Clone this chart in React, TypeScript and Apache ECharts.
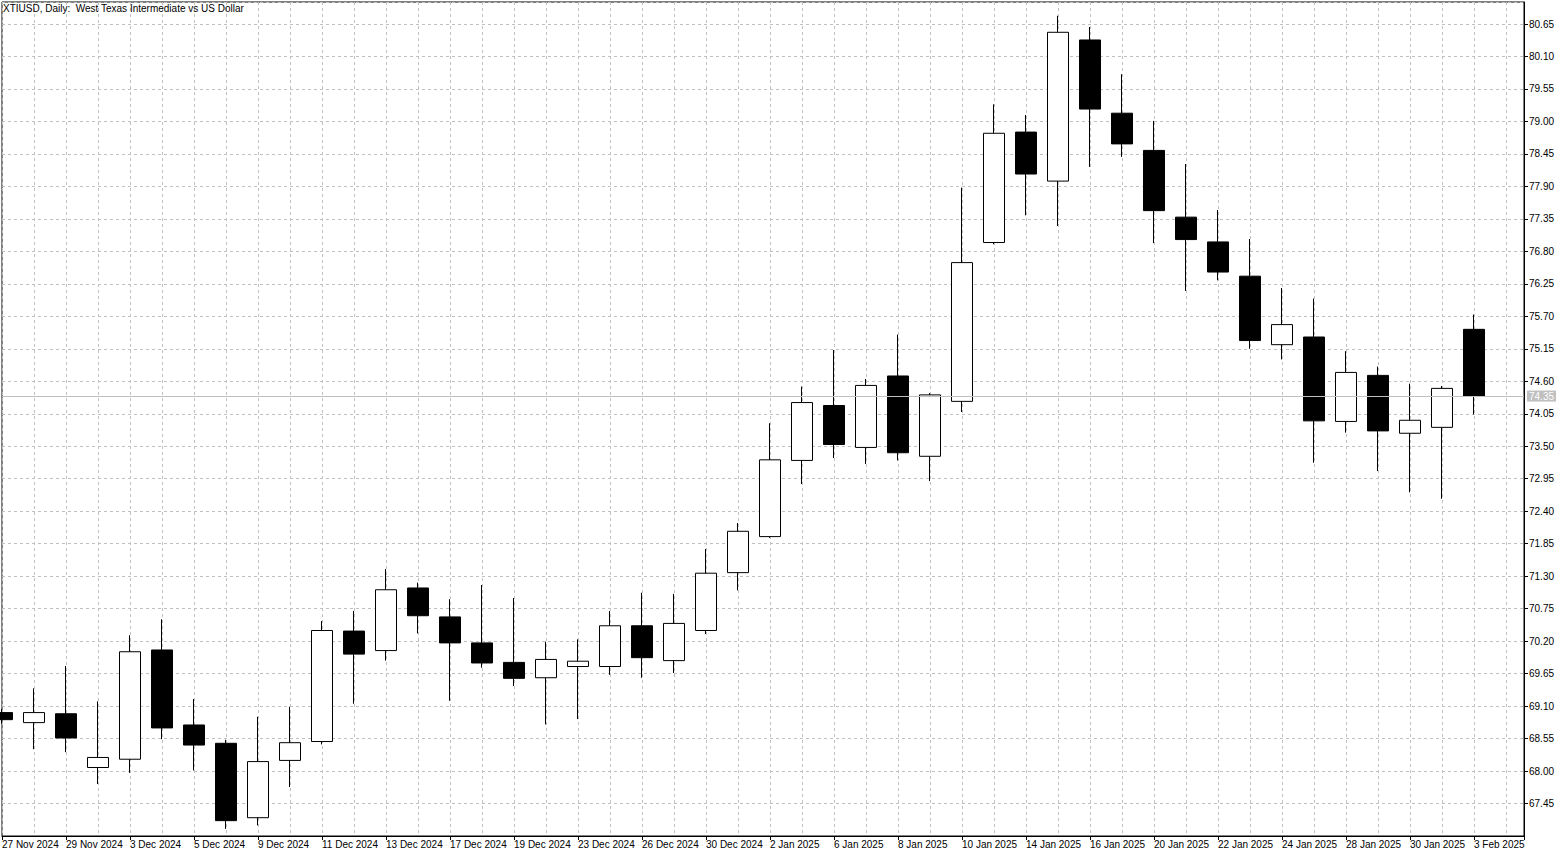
import React, { useEffect, useRef } from "react";
import * as echarts from "echarts";

const TITLE = "XTIUSD, Daily:  West Texas Intermediate vs US Dollar";

const dates = [
  "27 Nov 2024", "28 Nov 2024", "29 Nov 2024", "2 Dec 2024", "3 Dec 2024", "4 Dec 2024",
  "5 Dec 2024", "6 Dec 2024", "9 Dec 2024", "10 Dec 2024", "11 Dec 2024", "12 Dec 2024",
  "13 Dec 2024", "16 Dec 2024", "17 Dec 2024", "18 Dec 2024", "19 Dec 2024", "20 Dec 2024",
  "23 Dec 2024", "24 Dec 2024", "26 Dec 2024", "27 Dec 2024", "30 Dec 2024", "31 Dec 2024",
  "2 Jan 2025", "3 Jan 2025", "6 Jan 2025", "7 Jan 2025", "8 Jan 2025", "9 Jan 2025",
  "10 Jan 2025", "13 Jan 2025", "14 Jan 2025", "15 Jan 2025", "16 Jan 2025", "17 Jan 2025",
  "20 Jan 2025", "21 Jan 2025", "22 Jan 2025", "23 Jan 2025", "24 Jan 2025", "27 Jan 2025",
  "28 Jan 2025", "29 Jan 2025", "30 Jan 2025", "31 Jan 2025", "3 Feb 2025",
];

const opens = [
  68.99, 68.82, 68.97, 68.06, 68.2, 70.05, 68.78, 68.47, 67.21, 68.18, 68.5, 70.37,
  70.04, 71.1, 70.61, 70.17, 69.84, 69.58, 69.77, 69.77, 70.46, 69.87, 70.38, 71.36,
  71.97, 73.26, 74.19, 73.48, 74.69, 73.33, 74.26, 76.95, 78.82, 77.99, 80.38, 79.14,
  78.51, 77.38, 76.96, 76.38, 75.22, 75.35, 73.92, 74.7, 73.72, 73.82, 75.48,
];
const closes = [
  68.87, 68.99, 68.56, 68.23, 70.02, 68.73, 68.44, 67.16, 68.16, 68.48, 70.38, 69.98,
  71.07, 70.63, 70.17, 69.83, 69.57, 69.89, 69.86, 70.46, 69.92, 70.5, 71.35, 72.06,
  73.27, 74.24, 73.53, 74.53, 73.39, 74.37, 76.61, 78.8, 78.11, 80.51, 79.21, 78.62,
  77.49, 77.0, 76.45, 75.29, 75.56, 73.93, 74.75, 73.76, 73.94, 74.48, 74.35,
];
const lows = [
  68.8, 68.37, 68.32, 67.78, 67.97, 68.54, 68.01, 67.02, 67.08, 67.73, 68.45, 69.14,
  69.87, 70.33, 69.19, 69.75, 69.44, 68.79, 68.88, 69.63, 69.58, 69.66, 70.32, 71.06,
  71.95, 72.86, 73.3, 73.2, 73.26, 72.91, 74.08, 76.92, 77.41, 77.23, 78.23, 78.4,
  76.94, 76.13, 76.31, 75.15, 74.97, 73.22, 73.73, 73.08, 72.72, 72.61, 74.04,
];
const highs = [
  69.05, 69.4, 69.78, 69.18, 70.3, 70.57, 69.22, 68.53, 68.92, 69.09, 70.54, 70.71,
  71.42, 71.19, 70.91, 71.15, 70.93, 70.19, 70.23, 70.71, 71.02, 71.0, 71.76, 72.2,
  73.89, 74.51, 75.13, 74.64, 75.39, 74.4, 77.88, 79.29, 79.11, 80.79, 80.6, 79.8,
  79.01, 78.28, 77.5, 77.01, 76.18, 76.0, 75.11, 74.85, 74.56, 74.52, 75.73,
];

const lastPrice = 74.35;
const yMin = 66.9;
const yMax = 81.023;
const yStep = 0.55;
const xMax = 47.5625;

const FONT = "'Liberation Sans', Arial, sans-serif";
const GRID = "#c0c0c0";

export default function App() {
  const ref = useRef<HTMLDivElement>(null);
  useEffect(() => {
    document.body.style.margin = "0";
    const chart = echarts.init(ref.current!, null, { renderer: "svg" });
    const data = dates.map((_, i) => [i, opens[i], closes[i], lows[i], highs[i]]);
    chart.setOption({
      animation: false,
      backgroundColor: "#ffffff",
      textStyle: { fontFamily: FONT },
      title: {
        text: TITLE,
        left: 3,
        top: 3,
        padding: 0,
        textStyle: { fontSize: 10, fontWeight: "normal", color: "#000", fontFamily: FONT },
      },
      grid: {
        left: 2,
        right: 43,
        top: 2,
        bottom: 21,
        show: true,
        borderColor: "#000",
        borderWidth: 1,
        containLabel: false,
        outerBoundsMode: "none",
      },
      xAxis: [
        {
          type: "value",
          min: 0,
          max: xMax,
          interval: 2,
          position: "bottom",
          axisLine: { show: true, onZero: false, lineStyle: { color: "#000", width: 1 } },
          axisTick: { show: true, length: 4, inside: false, lineStyle: { color: "#000" } },
          axisLabel: {
            show: true,
            margin: 3,
            align: "left",
            fontSize: 10,
            color: "#000",
            fontFamily: FONT,
            hideOverlap: false,
            formatter: (v: number) => (Number.isInteger(v) && dates[v] ? dates[v] : ""),
          },
          splitLine: { show: false },
        },
        {
          type: "value",
          min: 0,
          max: xMax,
          interval: 1,
          position: "top",
          axisLine: { show: false },
          axisTick: { show: false },
          axisLabel: { show: false },
          splitLine: { show: true, lineStyle: { color: GRID, type: [3, 3], width: 1 } },
        },
      ],
      yAxis: {
        type: "value",
        position: "right",
        min: yMin,
        max: yMax,
        interval: yStep,
        axisLine: { show: true, onZero: false, lineStyle: { color: "#000", width: 1 } },
        axisTick: { show: true, length: 4, inside: false, lineStyle: { color: "#000" } },
        axisLabel: {
          margin: 5,
          fontSize: 10,
          color: "#000",
          fontFamily: FONT,
          showMinLabel: false,
          showMaxLabel: false,
          formatter: (v: number) => v.toFixed(2),
        },
        splitLine: { show: true, lineStyle: { color: GRID, type: [3, 3], width: 1 } },
      },
      series: [
        {
          type: "candlestick",
          xAxisIndex: 0,
          yAxisIndex: 0,
          data,
          barWidth: 21,
          itemStyle: {
            color: "#ffffff",
            color0: "#000000",
            borderColor: "#000000",
            borderColor0: "#000000",
            borderWidth: 1,
          },
          markLine: {
            silent: true,
            symbol: "none",
            animation: false,
            data: [{ yAxis: lastPrice }],
            lineStyle: { color: "#c0c0c0", type: "solid", width: 1 },
            label: {
              show: true,
              position: "end",
              distance: 3,
              formatter: lastPrice.toFixed(2),
              color: "#ffffff",
              backgroundColor: "#c0c0c0",
              padding: [1, 2, 0, 2],
              fontSize: 10,
              fontFamily: FONT,
            },
          },
        },
      ],
    });
    return () => chart.dispose();
  }, []);
  return <div ref={ref} style={{ width: 1567, height: 857 }} />;
}
